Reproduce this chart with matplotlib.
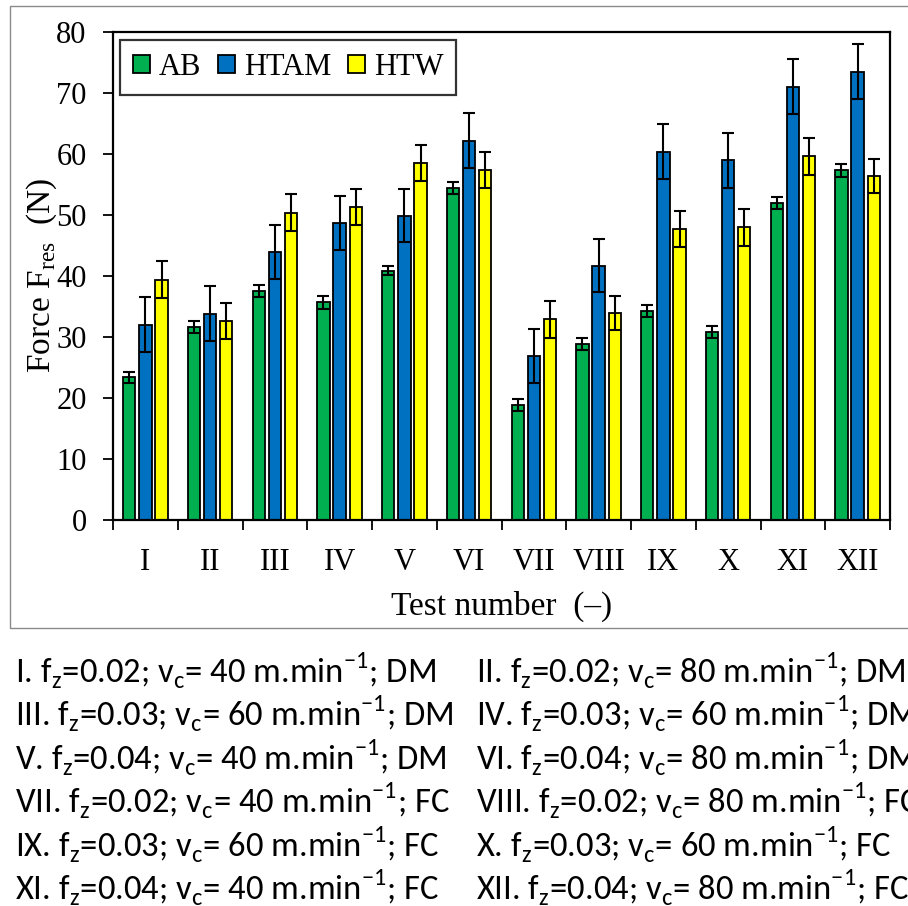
import matplotlib
matplotlib.use("Agg")
import matplotlib.pyplot as plt
import numpy as np
from matplotlib import font_manager as fm
from matplotlib.patches import Rectangle

# ---------------- data ----------------
tests = ["I", "II", "III", "IV", "V", "VI", "VII", "VIII", "IX", "X", "XI", "XII"]
series = ["AB", "HTAM", "HTW"]
AB = [23.4, 31.6, 37.5, 35.7, 40.9, 54.4, 18.9, 28.8, 34.3, 30.8, 52.0, 57.3]
HTAM = [32.0, 33.8, 43.9, 48.7, 49.9, 62.2, 26.9, 41.7, 60.4, 59.0, 71.0, 73.5]
HTW = [39.4, 32.6, 50.4, 51.3, 58.5, 57.4, 32.9, 34.0, 47.7, 48.0, 59.6, 56.4]
AB_err = [0.9, 1.0, 1.0, 1.1, 0.8, 1.0, 1.0, 1.0, 1.0, 1.0, 1.0, 1.1]
HTAM_err = [4.5, 4.5, 4.4, 4.4, 4.4, 4.5, 4.4, 4.4, 4.5, 4.5, 4.5, 4.5]
HTW_err = [3.0, 3.0, 3.1, 3.0, 3.0, 3.0, 3.0, 2.8, 3.0, 3.0, 3.0, 2.8]
yticks = [0, 10, 20, 30, 40, 50, 60, 70, 80]

conditions = [
    r"I. f$_\mathregular{z}$=0.02; v$_\mathregular{c}$= 40 m.min$^\mathregular{-1}$; DM",
    r"II. f$_\mathregular{z}$=0.02; v$_\mathregular{c}$= 80 m.min$^\mathregular{-1}$; DM",
    r"III. f$_\mathregular{z}$=0.03; v$_\mathregular{c}$= 60 m.min$^\mathregular{-1}$; DM",
    r"IV. f$_\mathregular{z}$=0.03; v$_\mathregular{c}$= 60 m.min$^\mathregular{-1}$; DM",
    r"V. f$_\mathregular{z}$=0.04; v$_\mathregular{c}$= 40 m.min$^\mathregular{-1}$; DM",
    r"VI. f$_\mathregular{z}$=0.04; v$_\mathregular{c}$= 80 m.min$^\mathregular{-1}$; DM",
    r"VII. f$_\mathregular{z}$=0.02; v$_\mathregular{c}$= 40 m.min$^\mathregular{-1}$; FC",
    r"VIII. f$_\mathregular{z}$=0.02; v$_\mathregular{c}$= 80 m.min$^\mathregular{-1}$; FC",
    r"IX. f$_\mathregular{z}$=0.03; v$_\mathregular{c}$= 60 m.min$^\mathregular{-1}$; FC",
    r"X. f$_\mathregular{z}$=0.03; v$_\mathregular{c}$= 60 m.min$^\mathregular{-1}$; FC",
    r"XI. f$_\mathregular{z}$=0.04; v$_\mathregular{c}$= 40 m.min$^\mathregular{-1}$; FC",
    r"XII. f$_\mathregular{z}$=0.04; v$_\mathregular{c}$= 80 m.min$^\mathregular{-1}$; FC",
]

colors = ["#00B050", "#0070C0", "#FFFF00"]

# ---------------- fonts ----------------
names = {f.name for f in fm.fontManager.ttflist}
serif = "Liberation Serif" if "Liberation Serif" in names else "DejaVu Serif"
sans = "DejaVu Sans"
for cand in ["Carlito", "Liberation Sans Narrow", "Open Sans", "Noto Sans", "Liberation Sans"]:
    if cand in names:
        sans = cand
        break

plt.rcParams["font.family"] = [serif, "DejaVu Serif"]
plt.rcParams["axes.unicode_minus"] = True

W, H = 908, 906
fig = plt.figure(figsize=(W / 100, H / 100), dpi=100)

# outer gray frame
fig.patches.append(Rectangle((10 / W, 1 - 628 / H), 1.2, (628 - 6) / H,
                             transform=fig.transFigure, fill=False,
                             edgecolor="#8a8a8a", linewidth=1.0))

ax = fig.add_axes([113 / W, 1 - 520 / H, (890 - 113) / W, (520 - 32) / H])

x = np.arange(len(tests))
offs = [-0.25, 0.0, 0.25]
vals = [AB, HTAM, HTW]
errs = [AB_err, HTAM_err, HTW_err]
for k in range(3):
    ax.bar(x + offs[k], vals[k], width=0.19, color=colors[k], edgecolor="black",
           linewidth=1.3, label=series[k], zorder=2)
    ax.errorbar(x + offs[k], vals[k], yerr=errs[k], fmt="none", ecolor="black",
                elinewidth=1.5, capsize=4.6, capthick=1.5, zorder=3)

ax.set_xlim(-0.5, len(tests) - 0.5)
ax.set_ylim(0, 80)
ax.set_yticks(yticks)
ax.set_xticks(x)
ax.set_xticklabels(tests)
ax.set_xticks(np.arange(len(tests) + 1) - 0.5, minor=True)
ax.tick_params(axis="x", which="major", length=0, pad=20, labelsize=22)
ax.tick_params(axis="x", which="minor", length=7, width=1.3, direction="out")
ax.tick_params(axis="y", length=7, width=1.3, direction="out", pad=12, labelsize=22)
for s in ax.spines.values():
    s.set_linewidth(1.6)
    s.set_color("black")

ax.set_xlabel("Test number  (–)", fontsize=24, labelpad=10)
ax.set_ylabel(r"Force F$_\mathregular{res}$  (N)", fontsize=24, labelpad=-2)

leg = ax.legend(loc="upper left", bbox_to_anchor=(120 / W, 1 - 40 / H),
                bbox_transform=fig.transFigure, ncol=3, fontsize=22,
                frameon=True, fancybox=False, edgecolor="black",
                handlelength=0.55, handleheight=0.55, handletextpad=0.3,
                columnspacing=0.55, borderpad=0.42, borderaxespad=0)
leg.get_frame().set_linewidth(1.6)

# ---------------- conditions text ----------------
fig.canvas.draw()
renderer = fig.canvas.get_renderer()
probe = fig.text(0, 0, conditions[2], fontsize=20, family=[sans, "DejaVu Sans"])
wpx = probe.get_window_extent(renderer).width
probe.remove()
fs = 20 * 438.0 / wpx

base0 = 683
pitch = 43.4
for i, txt in enumerate(conditions):
    row, col = divmod(i, 2)
    xp = 15 if col == 0 else 476
    yp = base0 + row * pitch
    fig.text(xp / W, 1 - yp / H, txt, fontsize=fs, family=[sans, "DejaVu Sans"],
             ha="left", va="baseline")

fig.savefig("out.png", dpi=100)
